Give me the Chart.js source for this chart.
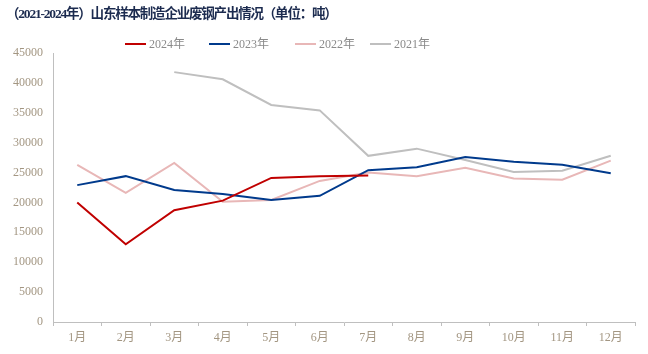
<!DOCTYPE html>
<html>
<head>
<meta charset="utf-8">
<script src="https://cdn.jsdelivr.net/npm/chart.js@4"></script>
<style>
  html, body { margin: 0; padding: 0; background: #fff; }
  #wrap { position: relative; width: 648px; height: 354px; }
  #title {
    position: absolute; left: 6px; top: 2px;
    font: bold 13.5px "Liberation Serif", "Noto Sans CJK SC", serif;
    letter-spacing: -1.2px;
    color: #1c2b4f; white-space: nowrap;
  }
  .leg { position: absolute; top: 34px; height: 16px; font: 12px "Liberation Serif", "Noto Sans CJK SC", serif; color: #8a8a8a; white-space: nowrap; }
  .leg i { display: inline-block; width: 21px; height: 2px; vertical-align: middle; margin-right: 3px; position: relative; top: -1px; }
  canvas { position: absolute; left: 0; top: 0; }
</style>
</head>
<body>
<div id="wrap">
  <canvas id="chart" width="648" height="354"></canvas>
  <div id="title">（2021-2024年）山东样本制造企业废钢产出情况（单位：吨）</div>
  <div id="legend"></div>
</div>
<script>
// ============ Data ============

const months = ['1月', '2月', '3月', '4月', '5月', '6月', '7月', '8月', '9月', '10月', '11月', '12月'];
const seriesNames = ['2024年', '2023年', '2022年', '2021年'];
const seriesColors = ['#c00000', '#003a8c', '#e8b7b7', '#bfbfbf'];
const legendLeft = [125, 209, 295, 370];

const y2024 = [20000, 13000, 18700, 20300, 24100, 24400, 24500, null, null, null, null, null];
const y2023 = [22900, 24400, 22100, 21400, 20400, 21100, 25400, 25900, 27600, 26800, 26300, 24900];
const y2022 = [26300, 21600, 26600, 20100, 20400, 23600, 25000, 24400, 25800, 24000, 23800, 27000];
const y2021 = [null, null, 41800, 40600, 36300, 35400, 27800, 29000, 27100, 25100, 25300, 27800];

const yTicks = [0, 5000, 10000, 15000, 20000, 25000, 30000, 35000, 40000, 45000];

// ============ Legend ============

const legendEl = document.getElementById('legend');
seriesNames.forEach((name, i) => {
    const d = document.createElement('div');
    d.className = 'leg';
    d.style.left = legendLeft[i] + 'px';
    d.innerHTML = `<i style="background:${seriesColors[i]}"></i>${name}`;
    legendEl.appendChild(d);
});

// ============ Chart ============

const tickColor = '#a39682';
const axisColor = '#bfbfbf';
const font = { family: '"Liberation Serif", "Noto Sans CJK SC", serif', size: 12 };

new Chart(document.getElementById('chart').getContext('2d'), {
    type: 'line',
    data: {
        labels: months,
        datasets: [y2024, y2023, y2022, y2021].map((vals, i) => ({
            label: seriesNames[i],
            data: vals,
            borderColor: seriesColors[i],
            backgroundColor: seriesColors[i],
            borderWidth: 2,
            pointRadius: 0,
            tension: 0,
            spanGaps: false
        }))
    },
    options: {
        responsive: false,
        animation: false,
        layout: { padding: { left: 0, right: 13, top: 53, bottom: 8 } },
        plugins: {
            legend: { display: false },
            title: { display: false },
            tooltip: { enabled: false }
        },
        scales: {
            x: {
                offset: true,
                grid: {
                    offset: true,
                    drawOnChartArea: false,
                    drawTicks: true,
                    tickLength: 4,
                    color: axisColor
                },
                border: { color: axisColor, width: 1 },
                ticks: { color: tickColor, font: font, padding: 5, maxRotation: 0 },
                afterFit: (scale) => { scale.height = 24; }
            },
            y: {
                min: 0,
                max: 45000,
                afterBuildTicks: (scale) => { scale.ticks = yTicks.map(v => ({ value: v })); },
                grid: { drawOnChartArea: false, drawTicks: false },
                border: { color: axisColor, width: 1 },
                ticks: { color: tickColor, font: font, padding: 10, callback: (v) => String(v) },
                afterFit: (scale) => { scale.width = 53; }
            }
        }
    }
});
</script>
</body>
</html>
